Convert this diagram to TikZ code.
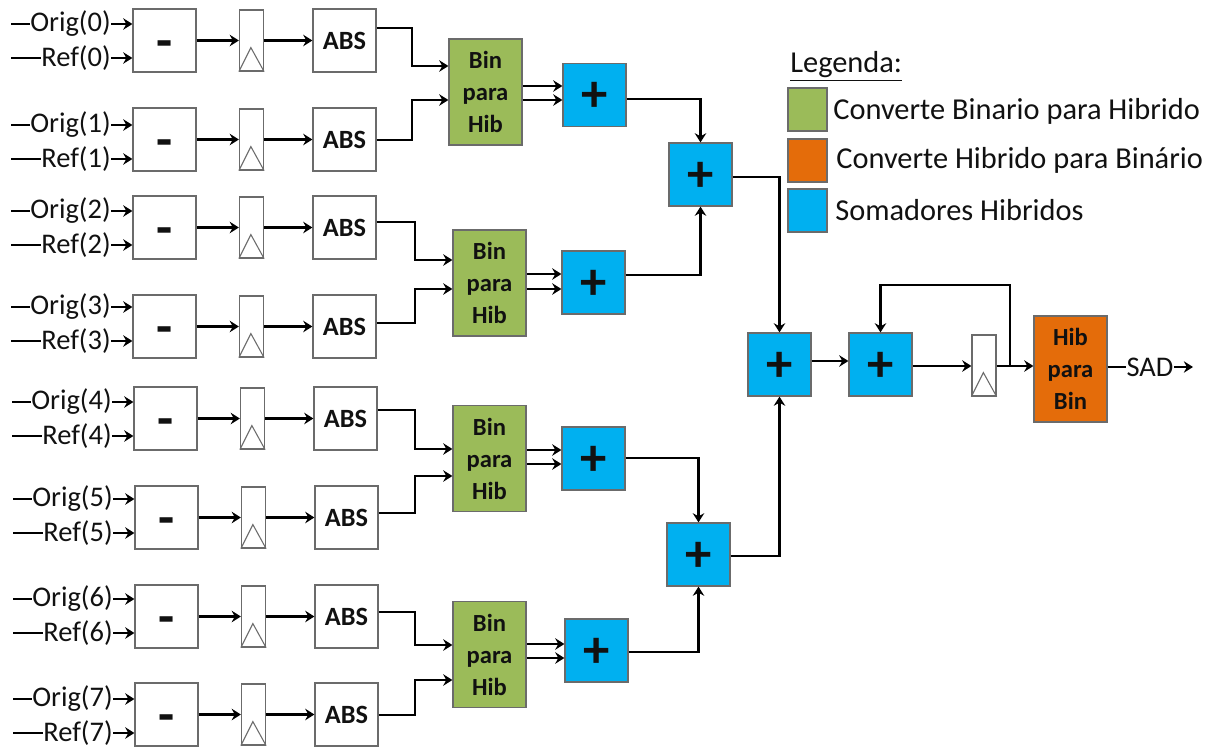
\documentclass[tikz,border=0pt]{standalone}
\usepackage{fontspec}
\setmainfont{Carlito}
\usepackage{xcolor}
\usetikzlibrary{
  arrows.meta,
  positioning,
  calc,
}
\definecolor{ink}{HTML}{111111}
\definecolor{edge}{HTML}{6B6B6B}
\definecolor{binfill}{HTML}{9BBB59}
\definecolor{hibfill}{HTML}{E46C0A}
\definecolor{addfill}{HTML}{00B0F0}
\tikzset{
  >={Stealth[length=5.2pt,width=6.5pt]},
  every node/.append style={text=ink},
  sig/.style={font=\fontsize{16.2}{18}\selectfont, inner sep=0pt},
  legtext/.style={font=\fontsize{17.3}{19}\selectfont, inner sep=0pt, anchor=west},
  wire/.style={line width=1.5pt, draw=black},
  block/.style={draw=edge, line width=0.7pt, fill=#1, inner sep=0pt},
  subbox/.style={block=white, minimum width=1.26cm, minimum height=1.26cm,
    font=\bfseries\fontsize{30}{30}\selectfont},
  absbox/.style={block=white, minimum width=1.26cm, minimum height=1.26cm,
    font=\bfseries\fontsize{15}{17}\selectfont},
  regbox/.style={block=white, minimum width=0.48cm, minimum height=1.22cm},
  conv/.style={block=#1, minimum width=1.46cm, minimum height=2.12cm, align=center,
    font=\bfseries\fontsize{14}{18.2}\selectfont},
  addbox/.style={block=addfill, minimum width=1.26cm, minimum height=1.26cm,
    text height=19pt, text depth=0pt,
    font=\bfseries\fontsize{30}{30}\selectfont},
  swatch/.style={block=#1, minimum width=0.78cm, minimum height=0.86cm},
}

\begin{document}
\begin{tikzpicture}[x=0.02cm,y=-0.02cm]
  \useasboundingbox (0,0) rectangle (1218,747);

  \foreach \i/\top/\oy/\ry/\dx in {
    0/9/24/58/0,
    1/108/125/159/0,
    2/196/211/245/0,
    3/295/307/341/0,
    4/387/402/436/1,
    5/486/499/533/2,
    6/585/599/633/2,
    7/683/699/733/2} {
    \node[subbox] (sub\i) at (164.5+\dx,\top+31.5) {\raisebox{-10.5pt}[0pt][0pt]{-}};
    \node[regbox] (reg\i) at (251.5+\dx,\top+31.5) {};
    \node[absbox] (abs\i) at (344.5+\dx,\top+31.5) {ABS};
    \draw[edge, line width=0.6pt] (reg\i.south west) -- ++(12,-24) -- (reg\i.south east);

    \node[sig, anchor=east] (orig\i) at (111+\dx,\oy) {Orig(\i)};
    \node[sig, anchor=east] (ref\i) at (111+\dx,\ry) {Ref(\i)};
    \coordinate (oin\i) at (11+\dx,\oy);
    \coordinate (rin\i) at (11+\dx,\ry);
    \draw[wire] (oin\i) -- (orig\i.west);
    \draw[wire] (rin\i) -- (ref\i.west);
    \draw[wire, ->] (orig\i.east) -- (sub\i.west |- orig\i.east);
    \draw[wire, ->] (ref\i.east) -- (sub\i.west |- ref\i.east);
    \draw[wire, ->] (sub\i.east) -- (reg\i.west);
    \draw[wire, ->] (reg\i.east) -- (abs\i.west);
  }

  \foreach \n/\cx/\cy/\a/\ya/\ia/\b/\yb/\ib/\ex/\ax/\ay/\ota/\otb/\oy in {
    0/485.5/92/0/28/66/1/140/100/412/594.5/95/86/100/99,
    1/489.5/283/2/222/260/3/323/289/415/593.5/282.5/274/289/275,
    2/489.5/458.5/4/410/449/5/513/476/415/593.5/458.5/450/464/458,
    3/489.5/654.5/6/612/645/7/715/680/415/596.5/650.5/644/658/652} {
    \node[conv=binfill] (bin\n) at (\cx,\cy) {Bin\\para\\Hib};
    \node[addbox] (add\n) at (\ax,\ay) {+};
    \draw[wire, ->] (abs\a.east |- 0,\ya) -- (\ex,\ya) -- (\ex,\ia) -- (bin\n.west |- 0,\ia);
    \draw[wire, ->] (abs\b.east |- 0,\yb) -- (\ex,\yb) -- (\ex,\ib) -- (bin\n.west |- 0,\ib);
    \draw[wire, ->] (bin\n.east |- 0,\ota) -- (add\n.west |- 0,\ota);
    \draw[wire, ->] (bin\n.east |- 0,\otb) -- (add\n.west |- 0,\otb);
  }

  \node[addbox] (sumA) at (700.5,174.5) {+};
  \node[addbox] (sumB) at (698.5,554.5) {+};
  \node[addbox] (sumC) at (779.5,364.5) {+};
  \node[addbox] (acc) at (880.5,364.5) {+};
  \node[regbox] (regout) at (984,365.5) {};
  \draw[edge, line width=0.6pt] (regout.south west) -- ++(12,-24) -- (regout.south east);
  \node[conv=hibfill] (hib) at (1070.5,369) {Hib\\para\\Bin};
  \node[sig] (sad) at (1150,367) {SAD};
  \coordinate (sadout) at (1193,367);
  \coordinate (tap) at (1010,366);

  \draw[wire, ->] (add0.east |- 0,99) -| (sumA.north);
  \draw[wire, ->] (add1.east |- 0,275) -| (sumA.south);
  \draw[wire, ->] (add2.east |- 0,458) -| (sumB.north);
  \draw[wire, ->] (add3.east |- 0,652) -| (sumB.south);
  \draw[wire, ->] (sumA.east |- 0,177) -| (sumC.north);
  \draw[wire, ->] (sumB.east |- 0,556) -| (sumC.south);
  \draw[wire, ->] (sumC.east |- 0,361) -- (acc.west |- 0,361);
  \draw[wire, ->] (acc.east |- 0,366) -- (regout.west |- 0,366);
  \draw[wire, ->] (regout.east |- 0,366) -- (hib.west |- 0,366);
  \draw[wire, ->] (tap) -- (tap |- 0,285) -| (acc.north);
  \draw[wire] (hib.east |- sad) -- (sad.west);
  \draw[wire, ->] (sad.east) -- (sadout);

  % legenda
  \node[legtext] (legtitle) at (790,66) {\underline{Legenda:}};
  \node[swatch=binfill] (legbin) at (807.5,109.5) {};
  \node[swatch=hibfill] (leghib) at (807.5,160.5) {};
  \node[swatch=addfill] (legadd) at (807.5,210.5) {};
  \node[legtext] (txtbin) at (833,111) {Converte Binario para Hibrido};
  \node[legtext] (txthib) at (836,160) {Converte Hibrido para Binário};
  \node[legtext] (txtadd) at (835,210) {Somadores Hibridos};
\end{tikzpicture}
\end{document}
